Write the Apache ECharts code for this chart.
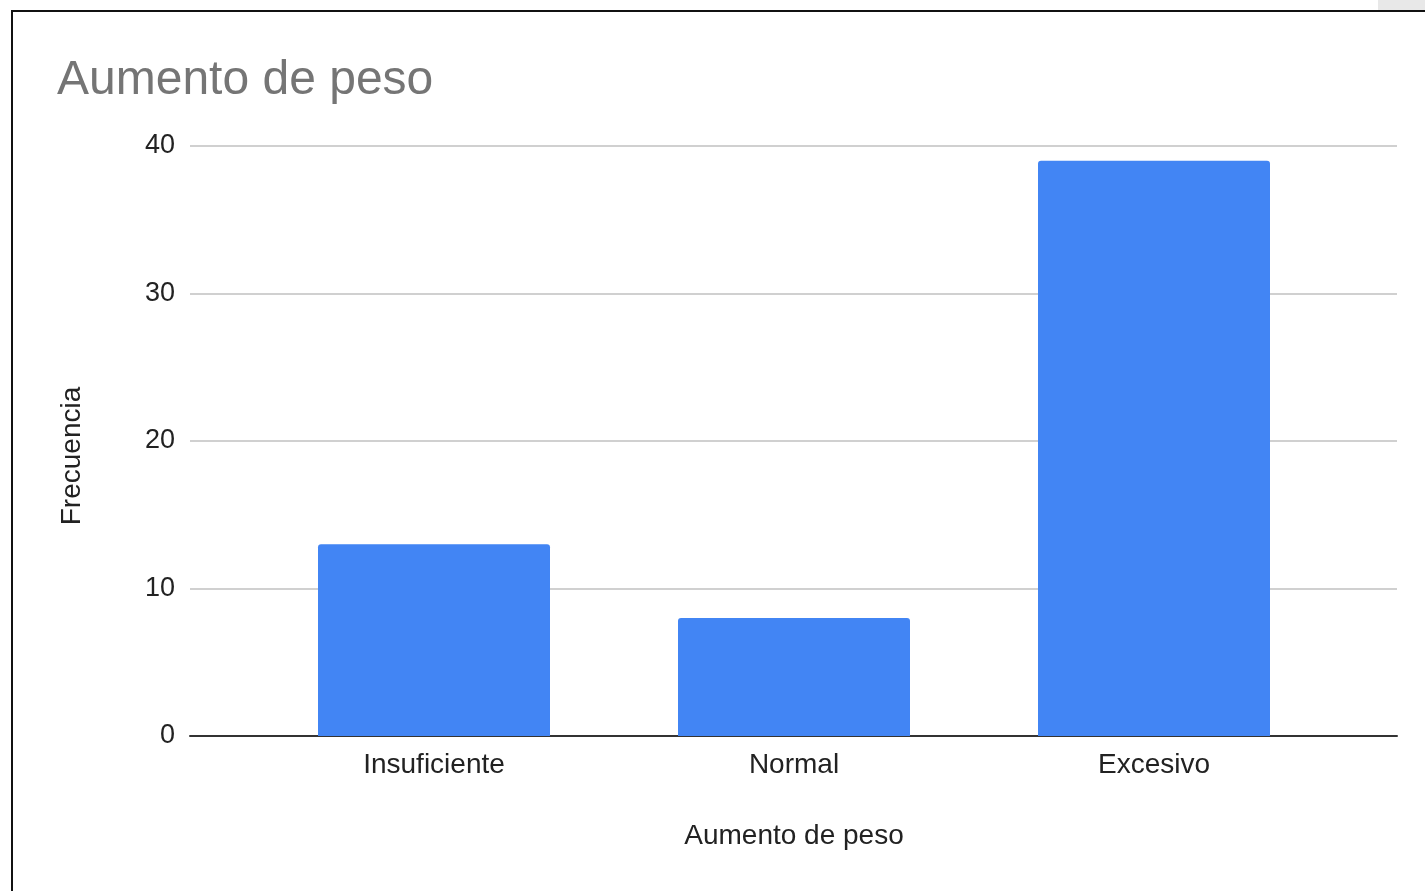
<!DOCTYPE html>
<html>
<head>
<meta charset="utf-8">
<script src="https://cdn.jsdelivr.net/npm/echarts@6/dist/echarts.min.js"></script>
<style>
html,body{margin:0;padding:0;background:#fff;}
#frame{position:absolute;left:11px;top:10px;width:1414px;height:881px;border-left:2px solid #111;border-top:2px solid #111;box-sizing:border-box;}
#corner{position:absolute;left:1378px;top:0;width:47px;height:10px;background:#e8e8e8;}
#chart{position:absolute;left:0;top:0;width:1425px;height:891px;}
</style>
</head>
<body>
<div id="chart"></div>
<div id="frame"></div>
<div id="corner"></div>
<script>
var categories = ['Insuficiente', 'Normal', 'Excesivo'];
var frecuencia = [13, 8, 39];
var yTicks = [0, 10, 20, 30, 40];
var titleText = 'Aumento de peso';
var xAxisName = 'Aumento de peso';
var yAxisName = 'Frecuencia';

var font = 'Liberation Sans, Arial, sans-serif';
var chart = echarts.init(document.getElementById('chart'));
chart.setOption({
  animation: false,
  backgroundColor: '#fff',
  title: {
    text: titleText,
    left: 57,
    top: 57,
    padding: 0,
    textStyle: { fontFamily: font, fontSize: 48, fontWeight: 'normal', color: '#757575' }
  },
  grid: [
    { left: 190, right: 28, top: 146, bottom: 155 },
    { left: 254, right: 91, top: 146, bottom: 155 }
  ],
  xAxis: [
    {
      gridIndex: 0, type: 'value', min: 0, max: 1,
      axisLine: { show: true, onZero: false, lineStyle: { color: '#333', width: 2 } },
      axisTick: { show: false }, axisLabel: { show: false }, splitLine: { show: false }
    },
    {
      gridIndex: 1, type: 'category', data: categories,
      axisLine: { show: false }, axisTick: { show: false },
      axisLabel: { fontFamily: font, fontSize: 28, color: '#222', margin: 15 },
      name: xAxisName, nameLocation: 'middle', nameGap: 86,
      nameTextStyle: { fontFamily: font, fontSize: 28, color: '#222' }
    }
  ],
  yAxis: [
    {
      gridIndex: 0, type: 'value', min: yTicks[0], max: yTicks[yTicks.length - 1], interval: 10,
      axisLine: { show: false }, axisTick: { show: false },
      axisLabel: { fontFamily: font, fontSize: 27, color: '#222', margin: 15, padding: [4, 0, 0, 0] },
      splitLine: { show: true, lineStyle: { color: '#d0d0d0', width: 2 } },
      name: yAxisName, nameLocation: 'middle', nameGap: 104,
      nameTextStyle: { fontFamily: font, fontSize: 28, color: '#222', padding: [0, 30, 0, 0] }
    },
    {
      gridIndex: 1, type: 'value', min: yTicks[0], max: yTicks[yTicks.length - 1], interval: 10,
      show: false
    }
  ],
  series: [
    {
      type: 'bar', xAxisIndex: 1, yAxisIndex: 1,
      data: frecuencia, barWidth: 232,
      itemStyle: { color: '#4285F4', borderRadius: [3, 3, 0, 0] }
    }
  ]
});
</script>
</body>
</html>
